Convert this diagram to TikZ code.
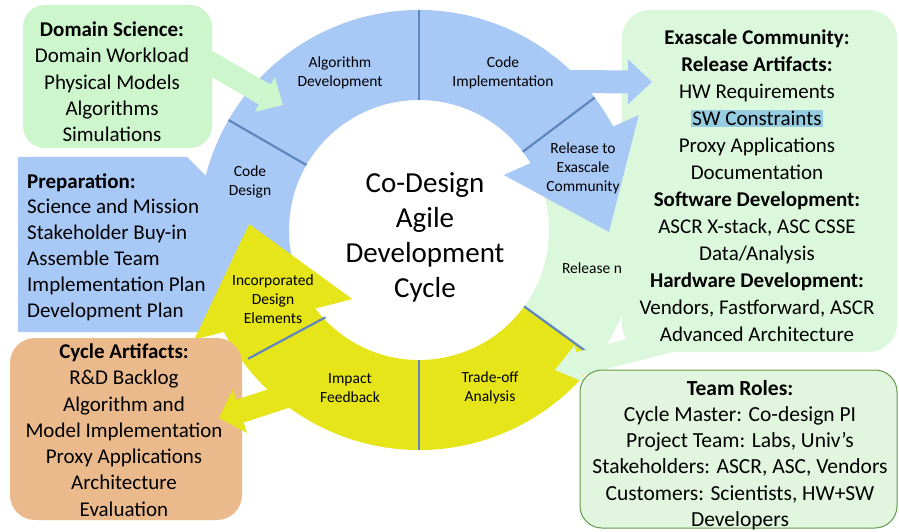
\documentclass[tikz,border=0pt]{standalone}
\usepackage{fontspec}
\setmainfont{Carlito}
\usetikzlibrary{calc}

\definecolor{ringblue}{RGB}{168,200,246}
\definecolor{ringyellow}{RGB}{229,229,26}
\definecolor{palegreen}{RGB}{220,248,220}
\definecolor{domaingreen}{RGB}{205,246,205}
\definecolor{teamgreen}{RGB}{225,245,223}
\definecolor{teamborder}{RGB}{100,155,75}
\definecolor{artifactorange}{RGB}{235,186,140}
\definecolor{dividerblue}{RGB}{95,135,190}
\definecolor{swblue}{RGB}{150,205,225}

% fat arrow: [colour]{start}{tip}{shaft half width}{head half width}{head length}
\newcommand{\fatarrow}[6][]{%
  \path ($(#3)!#6!(#2)$) coordinate (fa-base);
  \fill[#1] ($(#2)!#4!90:(#3)$) -- ($(fa-base)!#4!90:(#3)$) -- ($(fa-base)!#5!90:(#3)$)
    -- (#3) -- ($(fa-base)!#5!-90:(#3)$) -- ($(fa-base)!#4!-90:(#3)$) -- ($(#2)!#4!-90:(#3)$) -- cycle;
}

\begin{document}
\begin{tikzpicture}[x=1pt, y=1pt,
    box/.style={rounded corners=22pt, inner sep=0pt},
    boxtext/.style={align=center, inner sep=0pt, font=\fontsize{21}{26.3}\selectfont},
    ringlabel/.style={align=center, inner sep=0pt, font=\fontsize{15.5}{19}\selectfont},
    divider/.style={line width=2.2pt, dividerblue}]
    \useasboundingbox (0,0) rectangle (899,531);
    \coordinate (C) at (419,301);

    % Exascale community box, green part of the ring.
    \node[box, fill=palegreen, minimum width=275pt, minimum height=342pt, rounded corners=28pt] (exascale) at (759.5,350) {};
    \fill[palegreen] ($(C)+(-36:220)$) arc[start angle=-36, end angle=29, radius=220]
        -- ($(C)+(29:130)$) arc[start angle=29, end angle=-36, radius=130] -- cycle;

    % Preparation and the blue part of the ring.
    \fill[ringblue] (18,374) -- (187,374) -- (212,349) -- (214,226) -- (200,199) -- (18,199) -- cycle;
    \fill[ringblue] ($(C)+(28:220)$) arc[start angle=28, end angle=210, radius=220]
        -- ($(C)+(210:130)$) arc[start angle=210, end angle=28, radius=130] -- cycle;
    \fill[ringblue] ($(C)+(33:101)$) -- ($(C)+(27.6:248)$) -- ($(C)+(-0.6:190)$) -- cycle;
    \coordinate (impl-start) at (560,449.5);
    \coordinate (impl-tip) at (652,449);
    \fatarrow[ringblue]{impl-start}{impl-tip}{11.5pt}{22.5pt}{24pt}

    % Yellow part of the ring.
    \fill[ringyellow] ($(C)+(207:220)$) arc[start angle=207, end angle=324, radius=220]
        -- ($(C)+(324:130)$) arc[start angle=324, end angle=207, radius=130] -- cycle;
    \fill[ringyellow] ($(C)+(226:96)$) -- ($(C)+(206:250)$) -- ($(C)+(178:170)$) -- cycle;

    % Cycle artifacts.
    \node[box, fill=artifactorange, minimum width=232pt, minimum height=182pt, rounded corners=25pt] (artifacts) at (126,102) {};
    \coordinate (impact-start) at (320,146);
    \coordinate (impact-tip) at (219,113);
    \fatarrow[ringyellow]{impact-start}{impact-tip}{12pt}{23pt}{22pt}

    % Dividers.
    \foreach \a in {150,90,37,270}
        \draw[divider] ($(C)+(\a:130)$) -- ($(C)+(\a:220)$);
    \draw[divider] ($(C)+(-36:130)$) -- ($(C)+(-36:210)$);
    \draw[divider] ($(C)+(223:128)$) -- ($(C)+(217:214)$);

    % Domain science.
    \node[box, fill=domaingreen, minimum width=189pt, minimum height=143pt] (domain) at (117.5,454.5) {};
    \coordinate (domain-start) at (205,471);
    \coordinate (domain-tip) at (283,426);
    \fatarrow[domaingreen]{domain-start}{domain-tip}{11.5pt}{20pt}{21pt}

    % Team roles.
    \coordinate (release-start) at (690,196);
    \coordinate (release-tip) at (555,161);
    \fatarrow[palegreen]{release-start}{release-tip}{12pt}{19pt}{25pt}
    \node[box, fill=teamgreen, draw=teamborder, line width=1pt, minimum width=317pt, minimum height=158pt] (team) at (738.5,82) {};

    % Box texts.
    \node[boxtext] (domain-text) at (112,449)
        {\textbf{Domain Science:}\\Domain Workload\\Physical Models\\Algorithms\\Simulations};
    \node[boxtext, font=\fontsize{21}{27}\selectfont] (exascale-text) at (757,345)
        {\textbf{Exascale Community:}\\\textbf{Release Artifacts:}\\HW Requirements\\
         {\setlength{\fboxsep}{1.5pt}\colorbox{swblue}{SW Constraints}}\\Proxy Applications\\Documentation\\
         \textbf{Software Development:}\\ASCR X-stack, ASC CSSE\\Data/Analysis\\
         \textbf{Hardware Development:}\\Vendors, Fastforward, ASCR\\Advanced Architecture};
    \node[boxtext, font=\fontsize{21.5}{26.3}\selectfont] (team-text) at (740,76)
        {\textbf{Team Roles:}\\Cycle Master: Co-design PI\\Project Team: Labs, Univ’s\\Stakeholders: ASCR, ASC, Vendors\\Customers: Scientists, HW+SW\\Developers};
    \node[boxtext] (artifacts-text) at (124,101)
        {\textbf{Cycle Artifacts:}\\R\&D Backlog\\Algorithm and\\Model Implementation\\Proxy Applications\\Architecture\\Evaluation};
    \node[anchor=west, align=left, inner sep=0pt, font=\fontsize{21}{25.8}\selectfont] (prep) at (27,284)
        {\textbf{Preparation:}\\Science and Mission\\Stakeholder Buy-in\\Assemble Team\\Implementation Plan\\Development Plan};

    % Ring labels.
    \node[ringlabel] (algdev) at (340,458) {Algorithm\\Development};
    \node[ringlabel] (codeimpl) at (503,458) {Code\\Implementation};
    \node[ringlabel] (release) at (583,363) {Release to\\Exascale\\Community};
    \node[ringlabel] (codedesign) at (250,349) {Code\\Design};
    \node[ringlabel] (releasen) at (592,263) {Release n};
    \node[ringlabel] (incorporated) at (273,232) {Incorporated\\Design\\Elements};
    \node[ringlabel] (impact) at (350,143) {Impact\\Feedback};
    \node[ringlabel] (tradeoff) at (490,143) {Trade-off\\Analysis};
    \node[align=center, inner sep=0pt, font=\fontsize{29}{35}\selectfont] (cycle) at (425,294)
        {Co-Design\\Agile\\Development\\Cycle};
\end{tikzpicture}
\end{document}
